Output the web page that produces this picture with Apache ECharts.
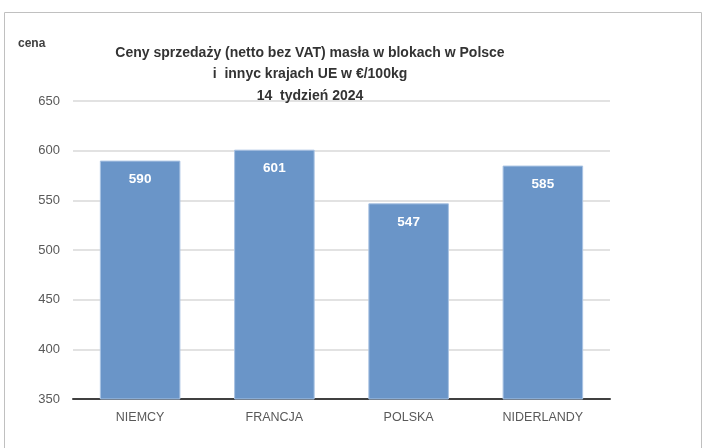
<!DOCTYPE html>
<html>
<head>
<meta charset="utf-8">
<script src="https://cdn.jsdelivr.net/npm/echarts@6/dist/echarts.min.js"></script>
<style>
  html, body { margin: 0; padding: 0; background: #fff; }
  #chart { width: 703px; height: 448px; }
</style>
</head>
<body>
<div id="chart"></div>
<script>
// kraje i ceny (EUR/100kg)
var kraje = ['NIEMCY', 'FRANCJA', 'POLSKA', 'NIDERLANDY'];
var ceny = [590, 601, 547, 585];
var osY = { min: 350, max: 650, interval: 50 };

var wykres = echarts.init(document.getElementById('chart'));
var font = 'Liberation Sans, Arial, sans-serif';

var option = {
    animation: false,
    graphic: [
        {
            type: 'rect',
            shape: { x: 4.5, y: 12.5, width: 697, height: 460 },
            style: { fill: 'none', stroke: '#c0c0c0', lineWidth: 1 }
        },
        {
            type: 'text',
            left: 18,
            top: 38,
            style: { text: 'cena', font: 'bold 12px ' + font, fill: '#404040' }
        }
    ],
    title: {
        text: 'Ceny sprzedaży (netto bez VAT) masła w blokach w Polsce\ni  innyc krajach UE w €/100kg\n14  tydzień 2024',
        left: 305,
        top: 37,
        textAlign: 'center',
        textStyle: {
            fontFamily: font,
            fontSize: 14,
            fontWeight: 'bold',
            color: '#333333',
            lineHeight: 21.5
        }
    },
    grid: { left: 73, right: 93, top: 101, bottom: 49 },
    xAxis: {
        type: 'category',
        data: kraje,
        axisLine: { lineStyle: { color: '#404040', width: 2 } },
        axisTick: { show: false },
        axisLabel: { color: '#595959', fontFamily: font, fontSize: 12.5, margin: 12 }
    },
    yAxis: {
        type: 'value',
        min: osY.min,
        max: osY.max,
        interval: osY.interval,
        axisLine: { show: false },
        axisTick: { show: false },
        axisLabel: { color: '#595959', fontFamily: font, fontSize: 13, margin: 13 },
        splitLine: { lineStyle: { color: '#d9d9d9', width: 1.5 } }
    },
    series: [{
        type: 'bar',
        data: ceny,
        barWidth: '60%',
        itemStyle: { color: '#6a95c8', borderColor: '#a9c3e3', borderWidth: 1 },
        label: {
            show: true,
            position: 'insideTop',
            distance: 12,
            color: '#fff',
            fontFamily: font,
            fontSize: 13.5,
            fontWeight: 'bold'
        }
    }]
};
wykres.setOption(option);
</script>
</body>
</html>
